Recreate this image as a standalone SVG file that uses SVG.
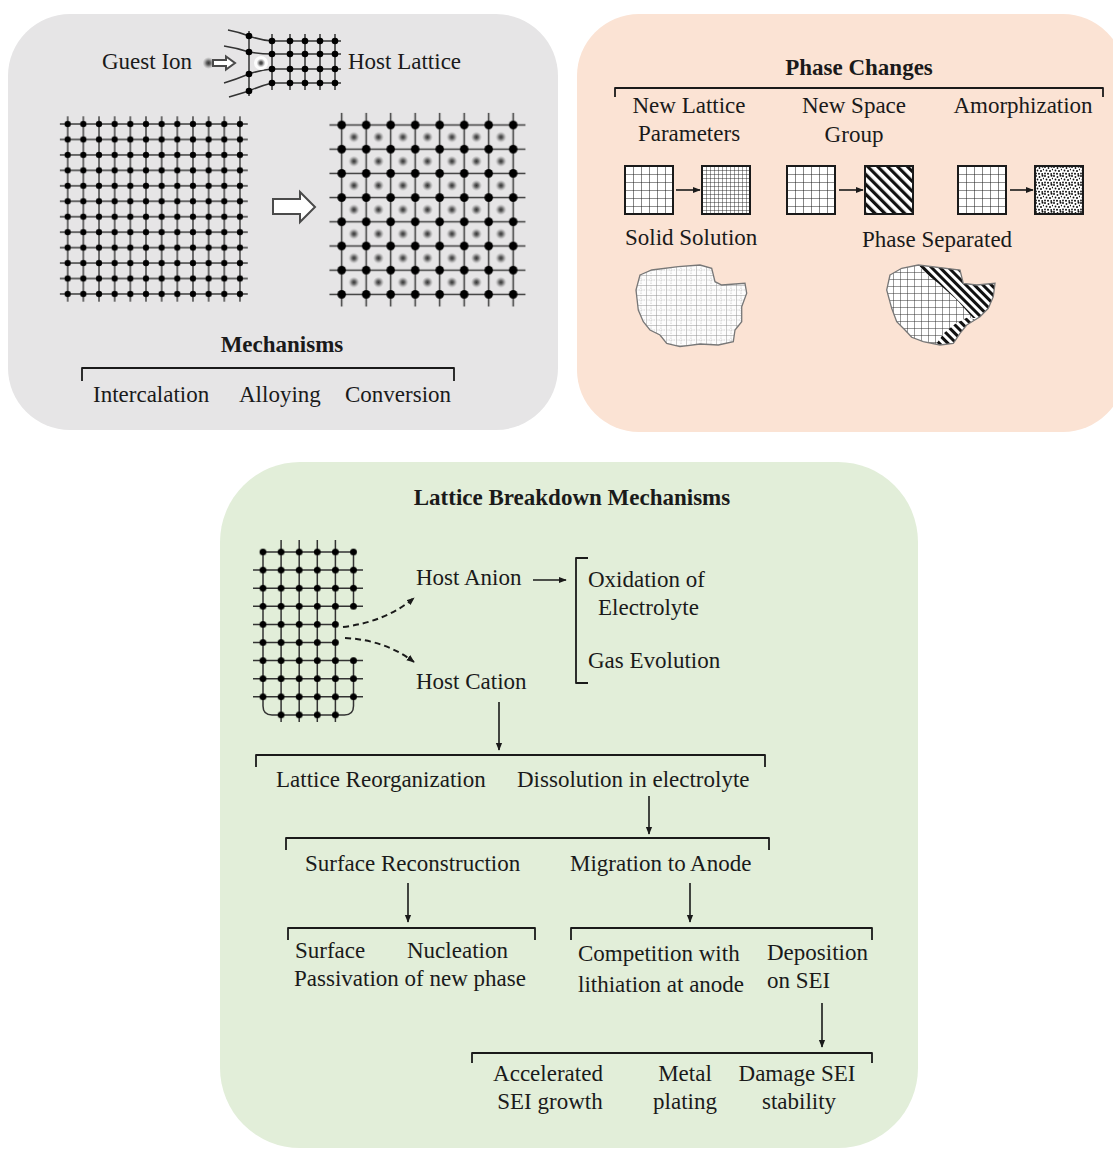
<svg xmlns="http://www.w3.org/2000/svg" width="1113" height="1149" viewBox="0 0 1113 1149">
  <style>
    .t { font-family: "Liberation Serif", "Times New Roman", serif; font-size: 23px; fill: #1a1a1a; }
    .t23 { font-size: 23px; }
    .b { font-weight: bold; }
    .mid { text-anchor: middle; }
    .br { fill: none; stroke: #1a1a1a; stroke-width: 1.8; stroke-linejoin: round; }
    .ar { fill: none; stroke: #1a1a1a; stroke-width: 1.6; marker-end: url(#ah); }
    .dash { fill: none; stroke: #1a1a1a; stroke-width: 2; stroke-dasharray: 6 4; marker-end: url(#ah); }
    .hollow { fill: #fff; stroke: #4a4a4a; stroke-width: 2; stroke-linejoin: miter; }
    .lat { fill: none; stroke: #333; stroke-width: 1.5; }
    .sq { stroke: #1a1a1a; stroke-width: 2; }
  </style>
  <defs>
    <marker id="ah" viewBox="0 0 10 10" refX="9" refY="5" markerWidth="8" markerHeight="8" markerUnits="userSpaceOnUse" orient="auto">
      <path d="M0,1 L10,5 L0,9 z" fill="#1a1a1a"/>
    </marker>
    <radialGradient id="ion">
      <stop offset="0" stop-color="#333"/>
      <stop offset="0.35" stop-color="#666"/>
      <stop offset="1" stop-color="#999" stop-opacity="0"/>
    </radialGradient>
    <!-- 12x12 host lattice -->
    <pattern id="latA" x="59.87" y="116.3" width="15.66" height="15.45" patternUnits="userSpaceOnUse">
      <path d="M0,7.725H15.66M7.83,0V15.45" stroke="#3a3a3a" stroke-width="1.4"/>
      <circle cx="7.83" cy="7.725" r="3.1" fill="#000"/>
    </pattern>
    <!-- expanded 8x8 lattice with guest ions -->
    <pattern id="latB" x="329.45" y="112.9" width="24.5" height="24.2" patternUnits="userSpaceOnUse">
      <path d="M0,12.1H24.5M12.25,0V24.2" stroke="#3a3a3a" stroke-width="1.5"/>
      <circle cx="12.25" cy="12.1" r="4.3" fill="#000"/>
    </pattern>
    <pattern id="guest" x="341.7" y="125" width="24.5" height="24.2" patternUnits="userSpaceOnUse">
      <circle cx="12.25" cy="12.1" r="5.5" fill="url(#ion)"/>
    </pattern>
    <!-- lattice dots of the breakdown panel -->
    <pattern id="dotG" x="253.95" y="542.95" width="18.1" height="18.1" patternUnits="userSpaceOnUse">
      <circle cx="9.05" cy="9.05" r="3.4" fill="#000"/>
    </pattern>
    <!-- phase textures -->
    <pattern id="grid8" width="8" height="8" patternUnits="userSpaceOnUse">
      <rect width="8" height="8" fill="#fff"/>
      <path d="M0,0H8M0,0V8" stroke="#222" stroke-width="1.1"/>
    </pattern>
    <pattern id="grid4" width="4" height="4" patternUnits="userSpaceOnUse">
      <rect width="4" height="4" fill="#fff"/>
      <path d="M0,0H4M0,0V4" stroke="#222" stroke-width="0.9"/>
    </pattern>
    <pattern id="stripe" width="7" height="7" patternUnits="userSpaceOnUse" patternTransform="rotate(-45)">
      <rect width="7" height="7" fill="#fff"/>
      <rect width="3.2" height="7" fill="#111"/>
    </pattern>
    <pattern id="stipple" width="9" height="9" patternUnits="userSpaceOnUse">
      <rect width="9" height="9" fill="#fff"/>
      <g fill="#111">
        <circle cx="1" cy="1" r="1"/><circle cx="4.5" cy="2" r="0.9"/><circle cx="7.5" cy="0.8" r="1"/>
        <circle cx="2.5" cy="4.5" r="0.9"/><circle cx="6" cy="5" r="1"/><circle cx="8.6" cy="3.6" r="0.8"/>
        <circle cx="1" cy="7.5" r="0.9"/><circle cx="4" cy="7.8" r="1"/><circle cx="7.2" cy="8" r="0.9"/>
      </g>
    </pattern>
    <pattern id="softGrid" x="636" y="265" width="10" height="10" patternUnits="userSpaceOnUse">
      <rect width="10" height="10" fill="#fdfdfd"/>
      <path d="M0,0H10M0,0V10" stroke="#8a8a8a" stroke-width="0.9"/>
      <path d="M0,5H10M5,0V10" stroke="#bdbdbd" stroke-width="0.7" stroke-dasharray="1.5 1"/>
    </pattern>
    <pattern id="grid7" x="886" y="265" width="7" height="7" patternUnits="userSpaceOnUse">
      <rect width="7" height="7" fill="#fff"/>
      <path d="M0,0H7M0,0V7" stroke="#333" stroke-width="1"/>
    </pattern>
    <pattern id="stripeS" width="6" height="6" patternUnits="userSpaceOnUse" patternTransform="rotate(-45)">
      <rect width="6" height="6" fill="#fff"/>
      <rect width="3" height="6" fill="#111"/>
    </pattern>
    <clipPath id="blob2clip">
      <path d="M890,275 L901.7,268.3 L918.3,265 L960,270 L963.3,283.3 L976.7,285 L995,283.3 L993.3,296.7 L988.3,308.3 L980,316.7 L966.7,325 L960,333.3 L953.3,343.3 L940,345 L923.3,341.7 L911.7,337.3 L905,330 L896.7,321.7 L891.7,308.3 L886.7,290 Z"/>
    </clipPath>
  </defs>

  <rect width="1113" height="1149" fill="#fff"/>

  <!-- panel backgrounds -->
  <rect id="panel-mechanisms" x="8" y="14" width="550" height="416" rx="62" fill="#e6e5e6"/>
  <rect id="panel-phase" x="577" y="14" width="548" height="418" rx="62" fill="#fbe3d4"/>
  <rect id="panel-breakdown" x="220" y="462" width="698" height="686" rx="80" fill="#e2eed9"/>

  <!-- ===== Mechanisms ===== -->
  <g id="guest-ion">
    <text class="t" x="102" y="69">Guest Ion</text>
    <circle cx="208.5" cy="63" r="6" fill="url(#ion)"/>
    <polygon class="hollow" points="213,60 226,60 226,56.5 235,63 226,69.5 226,66 213,66" stroke-width="1.5"/>
  </g>
  <g id="host-lattice">
    <path class="lat" d="M272,34V90M290,34V90M305,34V90M320,34V90M335,34V90"/>
    <path class="lat" d="M228,30 Q239,32 249,36 Q260,40 272,41 H341
                         M224,46 Q237,48 249,52 Q260,54 272,54 H341
                         M224,83 Q237,79 249,74 Q260,70 272,69 H341
                         M229,97 Q239,94 249,91 Q260,86 272,83 H341
                         M249,31V96"/>
    <g fill="#000">
      <circle cx="249" cy="36" r="3.3"/><circle cx="249" cy="52" r="3.3"/><circle cx="249" cy="74" r="3.3"/><circle cx="249" cy="91" r="3.3"/>
      <circle cx="272" cy="41" r="3.3"/><circle cx="290" cy="41" r="3.3"/><circle cx="305" cy="41" r="3.3"/><circle cx="320" cy="41" r="3.3"/><circle cx="335" cy="41" r="3.3"/>
      <circle cx="272" cy="54" r="3.3"/><circle cx="290" cy="54" r="3.3"/><circle cx="305" cy="54" r="3.3"/><circle cx="320" cy="54" r="3.3"/><circle cx="335" cy="54" r="3.3"/>
      <circle cx="272" cy="69" r="3.3"/><circle cx="290" cy="69" r="3.3"/><circle cx="305" cy="69" r="3.3"/><circle cx="320" cy="69" r="3.3"/><circle cx="335" cy="69" r="3.3"/>
      <circle cx="272" cy="83" r="3.3"/><circle cx="290" cy="83" r="3.3"/><circle cx="305" cy="83" r="3.3"/><circle cx="320" cy="83" r="3.3"/><circle cx="335" cy="83" r="3.3"/>
    </g>
    <circle cx="261" cy="63" r="7" fill="#fff" opacity="0.9"/>
    <circle cx="261" cy="63" r="4.5" fill="url(#ion)"/>
    <text class="t" x="348" y="69">Host Lattice</text>
  </g>
  <g id="lattice-before">
    <rect x="59.87" y="116.3" width="187.92" height="185.4" fill="url(#latA)"/>
  </g>
  <polygon id="insertion-arrow" class="hollow" points="273,199 300,199 300,192 315,207 300,222 300,214 273,214"/>
  <g id="lattice-after">
    <rect x="329.45" y="112.9" width="196" height="193.6" fill="url(#latB)"/>
    <rect x="341.7" y="125" width="171.5" height="169.4" fill="url(#guest)"/>
  </g>
  <g id="mechanisms">
    <text class="t b mid" x="282" y="352">Mechanisms</text>
    <path class="br" d="M82,381V368H454V381"/>
    <text class="t" x="93" y="402">Intercalation</text>
    <text class="t" x="239" y="402">Alloying</text>
    <text class="t" x="345" y="402">Conversion</text>
  </g>

  <!-- ===== Phase Changes ===== -->
  <g id="phase-changes">
    <text class="t t23 b mid" x="859" y="75">Phase Changes</text>
    <path class="br" d="M615,97V88H1103V97"/>
  </g>
  <g id="new-lattice-parameters">
    <text class="t t23 mid" x="689" y="113">New Lattice</text>
    <text class="t t23 mid" x="689" y="141">Parameters</text>
    <g transform="translate(625,166)"><rect width="48" height="48" fill="url(#grid8)" class="sq"/></g>
    <g transform="translate(702,166)"><rect width="48" height="48" fill="url(#grid4)" class="sq"/></g>
  </g>
  <g id="new-space-group">
    <text class="t t23 mid" x="854" y="113">New Space</text>
    <text class="t t23 mid" x="854" y="142">Group</text>
    <g transform="translate(787,166)"><rect width="48" height="48" fill="url(#grid8)" class="sq"/></g>
    <g transform="translate(865,166)"><rect width="48" height="48" fill="url(#stripe)" class="sq"/></g>
  </g>
  <g id="amorphization">
    <text class="t t23 mid" x="1023" y="113">Amorphization</text>
    <g transform="translate(958,166)"><rect width="48" height="48" fill="url(#grid8)" class="sq"/></g>
    <g transform="translate(1035,166)"><rect width="48" height="48" fill="url(#stipple)" class="sq"/></g>
  </g>
  <g id="solid-solution">
    <text class="t t23" x="625" y="245">Solid Solution</text>
    <path d="M640,275 L651.7,270 L678.3,266.7 L700,265 L711.7,268.3 L715,281.7 L721.7,285 L745,283.3 L746.7,293.3 L741.7,306.7 L741.7,321.7 L735,330 L733.3,341.7 L718.3,345 L700,344 L680,346.7 L666.7,343.3 L660,335 L650,330 L643.3,321.7 L638.3,310 L636,290 Z" fill="url(#softGrid)" stroke="#777" stroke-width="1.3"/>
  </g>
  <g id="phase-separated">
    <text class="t t23" x="862" y="247">Phase Separated</text>
    <g clip-path="url(#blob2clip)">
      <rect x="880" y="260" width="120" height="90" fill="url(#grid7)"/>
      <path d="M916,262 L938,262 L962,270 L965,283 L997,282 L995,300 L988,310 L980,318 L973,318 L957,300 L938,283 L924,272 Z" fill="url(#stripeS)"/>
      <path d="M934,347 L953,347 L960,334 L967,326 L975,320 L968,317 L955,324 L944,333 Z" fill="url(#stripeS)"/>
    </g>
    <path d="M890,275 L901.7,268.3 L918.3,265 L960,270 L963.3,283.3 L976.7,285 L995,283.3 L993.3,296.7 L988.3,308.3 L980,316.7 L966.7,325 L960,333.3 L953.3,343.3 L940,345 L923.3,341.7 L911.7,337.3 L905,330 L896.7,321.7 L891.7,308.3 L886.7,290 Z" fill="none" stroke="#777" stroke-width="1.3"/>
  </g>

  <!-- ===== Lattice Breakdown Mechanisms ===== -->
  <g id="breakdown-title">
    <text class="t b mid" x="572" y="505">Lattice Breakdown Mechanisms</text>
  </g>
  <g id="breakdown-lattice">
    <path class="lat" d="M263,552H353.5
      M253,570.1H363M253,588.2H363M253,606.3H363
      M253,624.4H335.4M253,642.5H335.4
      M253,660.6H363M253,678.7H363M253,696.8H363
      M263,552V706 Q263,714.9 272,714.9 H344.5 Q353.5,714.9 353.5,706 V660.6
      M353.5,552V606.3
      M281.1,540V722M299.2,540V722M317.3,540V722M335.4,540V722"/>
    <rect x="253.95" y="542.95" width="108.6" height="72.4" fill="url(#dotG)"/>
    <rect x="253.95" y="615.35" width="90.5" height="36.2" fill="url(#dotG)"/>
    <rect x="253.95" y="651.55" width="108.6" height="54.3" fill="url(#dotG)"/>
    <rect x="272.05" y="705.85" width="72.4" height="18.1" fill="url(#dotG)"/>
  </g>
  <g id="host-anion"><text class="t" x="416" y="585">Host Anion</text></g>
  <g id="host-cation"><text class="t" x="416" y="689">Host Cation</text></g>
  <g id="anion-products">
    <path class="br" d="M588,558H576V683H588"/>
    <text class="t" x="588" y="587">Oxidation of</text>
    <text class="t" x="598" y="615">Electrolyte</text>
    <text class="t" x="588" y="668">Gas Evolution</text>
  </g>
  <g id="cation-fate">
    <path class="br" d="M256,767V755H765V767"/>
    <text class="t" x="276" y="787">Lattice Reorganization</text>
    <text class="t" x="517" y="787">Dissolution in electrolyte</text>
  </g>
  <g id="reorganization-paths">
    <path class="br" d="M286,850V838H769V850"/>
    <text class="t" x="305" y="871">Surface Reconstruction</text>
    <text class="t" x="570" y="871">Migration to Anode</text>
  </g>
  <g id="surface-outcomes">
    <path class="br" d="M288,940V928H535V940"/>
    <text class="t" x="295" y="958">Surface</text>
    <text class="t" x="407" y="958">Nucleation</text>
    <text class="t" x="294" y="986">Passivation of new phase</text>
  </g>
  <g id="anode-outcomes">
    <path class="br" d="M571,940V928H872V940"/>
    <text class="t" x="578" y="961">Competition with</text>
    <text class="t" x="578" y="992">lithiation at anode</text>
    <text class="t" x="767" y="960">Deposition</text>
    <text class="t" x="767" y="988">on SEI</text>
  </g>
  <g id="sei-outcomes">
    <path class="br" d="M472,1063V1053H872V1063"/>
    <text class="t mid" x="548" y="1081">Accelerated</text>
    <text class="t mid" x="550" y="1109">SEI growth</text>
    <text class="t mid" x="685" y="1081">Metal</text>
    <text class="t mid" x="685" y="1109">plating</text>
    <text class="t mid" x="797" y="1081">Damage SEI</text>
    <text class="t mid" x="799" y="1109">stability</text>
  </g>

  <g id="connectors">
    <line class="ar" x1="676" y1="190" x2="700" y2="190"/>
    <line class="ar" x1="839" y1="190" x2="863" y2="190"/>
    <line class="ar" x1="1010" y1="190" x2="1033" y2="190"/>
    <path class="dash" d="M343,627 Q385,622 414,598"/>
    <path class="dash" d="M345,638 Q385,640 414,662"/>
    <line class="ar" x1="533" y1="580" x2="566" y2="580"/>
    <line class="ar" x1="499" y1="702" x2="499" y2="750"/>
    <line class="ar" x1="649" y1="796" x2="649" y2="834"/>
    <line class="ar" x1="408" y1="883" x2="408" y2="922"/>
    <line class="ar" x1="690" y1="883" x2="690" y2="922"/>
    <line class="ar" x1="822" y1="1003" x2="822" y2="1047"/>
  </g>
</svg>
